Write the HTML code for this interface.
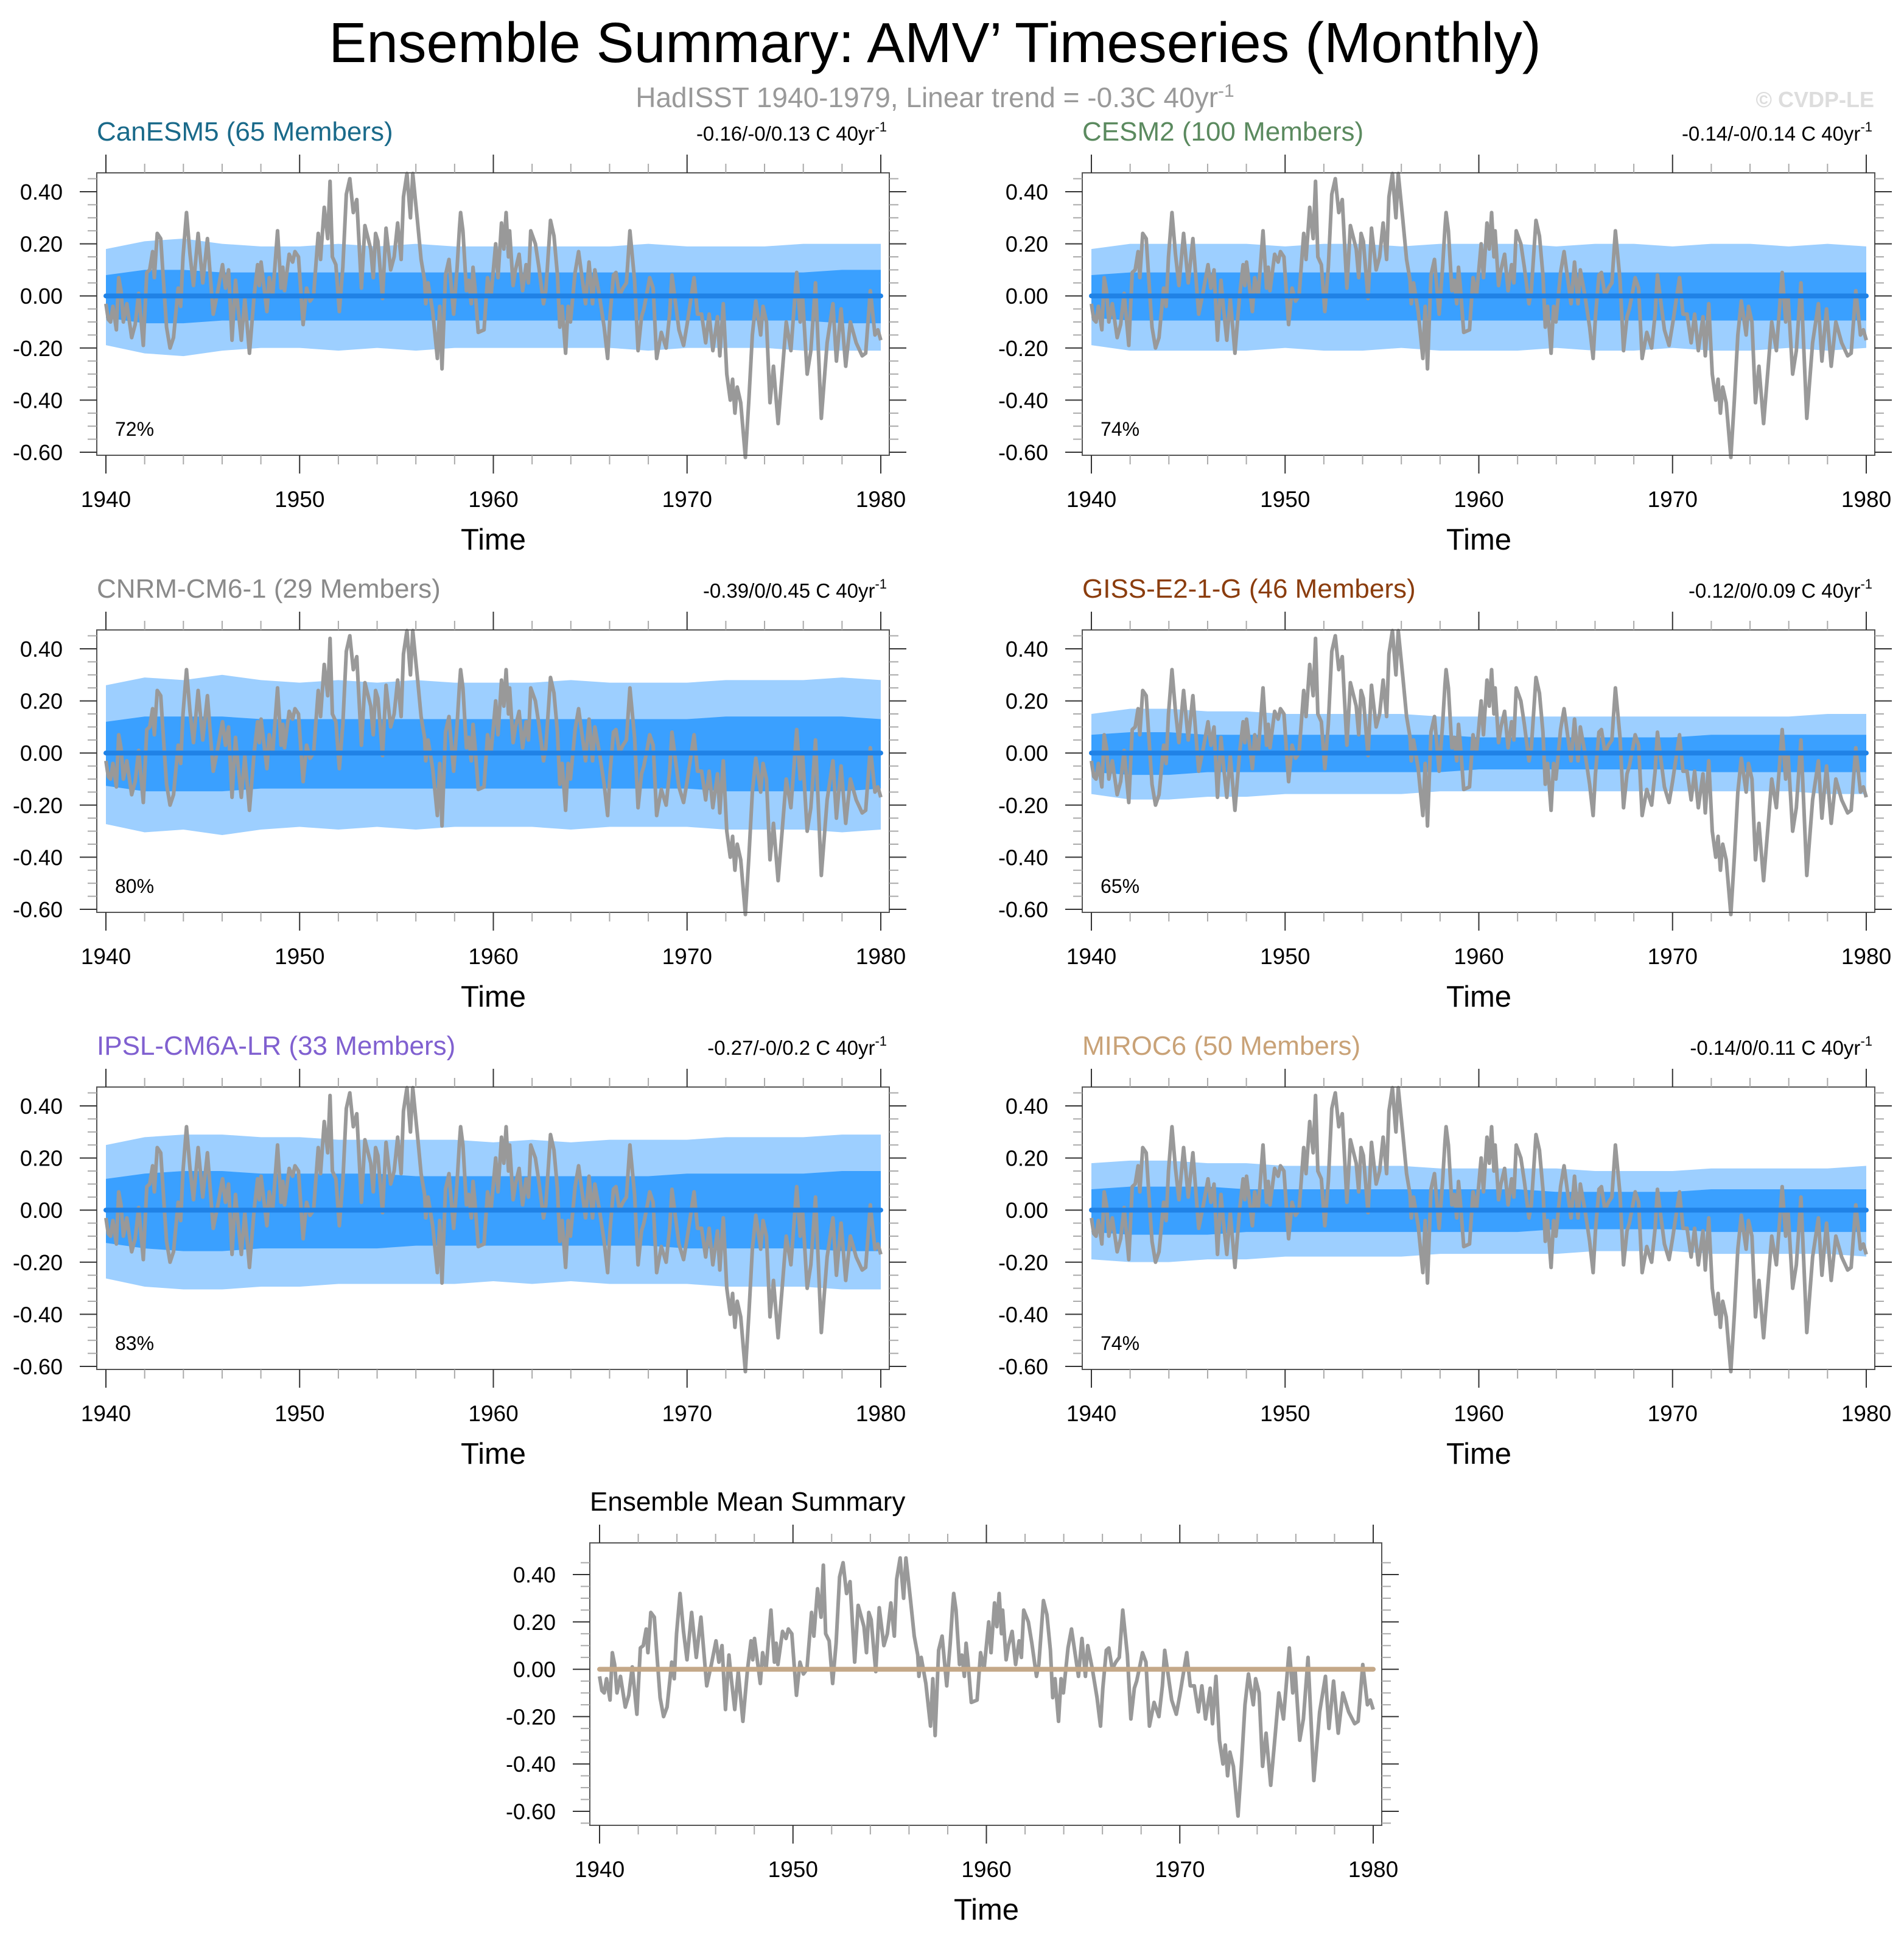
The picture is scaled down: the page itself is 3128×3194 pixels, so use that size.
<!DOCTYPE html>
<html><head><meta charset="utf-8"><style>
html,body{margin:0;padding:0;background:#fff;}
svg{display:block;font-family:"Liberation Sans",sans-serif;}
</style></head><body>
<svg id="fig" width="3128" height="3194" viewBox="0 0 3128 3194" xmlns="http://www.w3.org/2000/svg">
<text x="1536" y="102" font-size="93" text-anchor="middle" fill="#000">Ensemble Summary: AMV’ Timeseries (Monthly)</text>
<text x="1536" y="176" font-size="46" text-anchor="middle" fill="#999">HadISST 1940-1979, Linear trend = -0.3C 40yr<tspan dy="-17" font-size="30">-1</tspan></text>
<text x="3079" y="176" font-size="36" font-weight="bold" text-anchor="end" fill="#ddd">© CVDP-LE</text>
</svg>
<script>
const years = [1940,1950,1960,1970,1980];
const yTicks = [0.4,0.2,0,-0.2,-0.4,-0.6];
const obsTimes = [0,.12,.24,.36,.54,.66,.78,.90,1.08,1.33,1.51,1.69,1.93,2.11,2.26,2.41,2.50,2.65,2.83,2.95,3.13,3.31,3.49,3.73,3.86,3.98,4.16,4.34,4.52,4.76,5.00,5.24,5.54,5.78,6.02,6.17,6.33,6.51,6.69,6.81,6.99,7.17,7.41,7.65,7.83,7.92,8.01,8.31,8.43,8.61,8.86,9.04,9.13,9.22,9.46,9.64,9.76,9.94,10.18,10.36,10.54,10.72,10.96,11.08,11.27,11.45,11.57,11.69,11.87,12.05,12.23,12.41,12.59,12.77,12.95,13.19,13.37,13.67,13.80,13.92,14.04,14.28,14.46,14.70,14.88,15.06,15.24,15.36,15.54,15.72,15.84,16.08,16.27,16.45,16.51,16.63,16.87,17.11,17.23,17.35,17.53,17.71,17.95,18.13,18.25,18.31,18.43,18.61,18.73,18.86,18.95,19.04,19.22,19.52,19.70,19.88,20.12,20.24,20.42,20.54,20.66,20.78,20.84,21.02,21.14,21.33,21.51,21.69,21.81,21.93,22.17,22.35,22.59,22.71,22.95,23.13,23.31,23.43,23.55,23.73,23.86,23.98,24.22,24.40,24.58,24.76,24.94,25.12,25.24,25.48,25.72,25.90,26.02,26.20,26.33,26.51,26.69,26.87,27.05,27.29,27.47,27.65,27.77,27.95,28.07,28.25,28.43,28.67,28.92,29.10,29.22,29.58,29.82,30.00,30.36,30.54,30.75,30.96,31.14,31.33,31.57,31.69,31.87,32.05,32.23,32.35,32.47,32.59,32.77,33.01,33.19,33.37,33.55,33.80,33.92,34.10,34.28,34.46,34.70,34.94,35.12,35.36,35.66,35.84,35.96,36.20,36.39,36.63,36.93,37.23,37.53,37.71,37.95,38.19,38.43,38.73,39.04,39.22,39.46,39.70,39.85,40];
const obsValues = [-0.03,-0.09,-0.10,-0.04,-0.13,0.07,0.02,-0.10,-0.03,-0.16,-0.11,0.01,-0.19,0.09,0.10,0.17,0.07,0.24,0.22,0.08,-0.12,-0.20,-0.16,0.03,-0.04,0.15,0.32,0.16,0.04,0.24,0.05,0.22,-0.07,0.02,0.12,0.03,0.10,-0.17,0.06,-0.04,-0.17,-0.01,-0.22,0.00,0.12,0.04,0.13,-0.06,0.07,0.00,0.25,0.03,0.11,0.02,0.16,0.13,0.17,0.15,-0.11,0.03,-0.02,0.00,0.24,0.14,0.34,0.22,0.44,0.15,0.12,-0.06,0.11,0.39,0.45,0.32,0.37,0.03,0.27,0.18,0.07,0.24,0.21,-0.01,0.26,0.10,0.15,0.28,0.14,0.38,0.47,0.30,0.47,0.29,0.14,0.06,-0.03,0.05,-0.06,-0.24,-0.04,-0.28,0.08,0.14,-0.07,0.11,0.26,0.32,0.25,0.02,0.06,-0.03,0.11,0.04,-0.14,-0.13,0.07,0.00,0.20,0.07,0.28,0.18,0.32,0.15,0.25,0.04,0.10,0.16,0.02,0.12,0.05,0.25,0.20,0.11,-0.03,0.02,0.29,0.23,0.08,-0.12,-0.04,-0.22,-0.04,-0.10,0.09,0.17,0.07,-0.03,0.13,-0.03,0.10,0.00,-0.12,-0.24,-0.08,0.08,0.09,0.00,0.03,0.05,0.25,0.06,-0.21,-0.08,-0.05,0.02,0.07,0.03,-0.24,-0.14,-0.20,-0.07,0.08,-0.13,-0.19,-0.11,0.07,-0.07,-0.07,-0.18,-0.07,-0.21,-0.08,-0.23,-0.03,-0.30,-0.40,-0.32,-0.45,-0.35,-0.41,-0.62,-0.40,-0.15,-0.02,-0.15,-0.04,-0.10,-0.41,-0.27,-0.49,-0.27,-0.10,-0.21,0.09,-0.10,0.00,-0.30,-0.21,0.05,-0.47,-0.18,-0.03,-0.25,-0.05,-0.27,-0.10,-0.18,-0.23,-0.22,0.02,-0.15,-0.13,-0.17];
const bandYears = [1940,1942,1944,1946,1948,1950,1952,1954,1956,1958,1960,1962,1964,1966,1968,1970,1972,1974,1976,1978,1980];
const canOuter = [0.18,0.21,0.22,0.20,0.19,0.19,0.20,0.19,0.20,0.19,0.19,0.19,0.19,0.19,0.20,0.19,0.19,0.19,0.20,0.20,0.20];
const canInner = [0.08,0.10,0.10,0.09,0.09,0.09,0.09,0.09,0.09,0.09,0.09,0.09,0.09,0.09,0.09,0.09,0.09,0.09,0.09,0.10,0.10];
const cesmOuter = [0.18,0.20,0.20,0.20,0.20,0.19,0.20,0.20,0.19,0.20,0.20,0.20,0.19,0.20,0.20,0.19,0.20,0.20,0.19,0.20,0.19];
const cesmInner = [0.08,0.09,0.09,0.09,0.09,0.09,0.09,0.09,0.09,0.09,0.09,0.09,0.09,0.09,0.09,0.09,0.09,0.09,0.09,0.09,0.09];
const cnrmOuter = [0.26,0.29,0.28,0.30,0.28,0.27,0.28,0.27,0.28,0.27,0.27,0.27,0.28,0.27,0.27,0.27,0.28,0.28,0.28,0.29,0.28];
const cnrmInner = [0.12,0.14,0.14,0.14,0.13,0.13,0.13,0.13,0.13,0.13,0.13,0.13,0.13,0.13,0.13,0.13,0.14,0.14,0.14,0.14,0.13];
const gissOuter = [0.15,0.17,0.17,0.16,0.16,0.15,0.15,0.15,0.15,0.14,0.14,0.14,0.14,0.14,0.14,0.14,0.14,0.14,0.14,0.15,0.15];
const gissInner = [0.07,0.08,0.08,0.07,0.07,0.07,0.07,0.07,0.07,0.07,0.06,0.06,0.06,0.06,0.06,0.06,0.07,0.07,0.07,0.07,0.07];
const ipslOuter = [0.25,0.28,0.29,0.29,0.28,0.28,0.27,0.27,0.27,0.27,0.26,0.27,0.26,0.27,0.27,0.27,0.28,0.28,0.28,0.29,0.29];
const ipslInner = [0.12,0.14,0.15,0.15,0.14,0.14,0.14,0.14,0.13,0.13,0.13,0.13,0.13,0.13,0.13,0.14,0.14,0.14,0.14,0.15,0.15];
const mirocOuter = [0.18,0.19,0.19,0.18,0.18,0.17,0.17,0.17,0.17,0.16,0.16,0.16,0.16,0.15,0.15,0.15,0.16,0.16,0.16,0.16,0.17];
const mirocInner = [0.08,0.09,0.09,0.09,0.08,0.08,0.08,0.08,0.08,0.08,0.08,0.08,0.07,0.07,0.07,0.07,0.08,0.08,0.08,0.08,0.08];
const panelNames = ["CanESM5 (65 Members)","CESM2 (100 Members)","CNRM-CM6-1 (29 Members)","GISS-E2-1-G (46 Members)","IPSL-CM6A-LR (33 Members)","MIROC6 (50 Members)"];
const panelTrends = ["-0.16/-0/0.13 C 40yr","-0.14/-0/0.14 C 40yr","-0.39/0/0.45 C 40yr","-0.12/0/0.09 C 40yr","-0.27/-0/0.2 C 40yr","-0.14/0/0.11 C 40yr"];
const panelPercents = ["72%","74%","80%","65%","83%","74%"];
const panelOuter = [canOuter,cesmOuter,cnrmOuter,gissOuter,ipslOuter,mirocOuter];
const panelInner = [canInner,cesmInner,cnrmInner,gissInner,ipslInner,mirocInner];
const panelColors = ["#1a6a8a","#5b8a5f","#8a8a8a","#8b3d0e","#8060d0","#c9a277"];

const NS="http://www.w3.org/2000/svg";
const svg=document.getElementById('fig');
function mk(tag,attrs,parent){const e=document.createElementNS(NS,tag);for(const k in attrs)e.setAttribute(k,attrs[k]);(parent||svg).appendChild(e);return e;}

function drawPanel(idx,bx,by,bw,bh,x0,xspan,y04,yscale,opt){
  const g=mk('g',{});
  
  
  const xs=yr=>x0+(yr-1940)*xspan/40;
  const ys=v=>y04+(0.4-v)*yscale;
  if(opt.outer){
    let pts=[];
    bandYears.forEach((y,i)=>pts.push(xs(y)+','+ys(opt.outer[i])));
    for(let i=bandYears.length-1;i>=0;i--)pts.push(xs(bandYears[i])+','+ys(-opt.outer[i]*1.05));
    const p=mk('polygon',{points:pts.join(' '),fill:'#9dcfff'},g);
    
    
    pts=[];
    bandYears.forEach((y,i)=>pts.push(xs(y)+','+ys(opt.inner[i])));
    for(let i=bandYears.length-1;i>=0;i--)pts.push(xs(bandYears[i])+','+ys(-opt.inner[i]*1.05));
    const q=mk('polygon',{points:pts.join(' '),fill:'#3aa0ff'},g);
    
    
  }
  const op=obsValues.map((v,i)=>xs(1940+obsTimes[i])+','+ys(v)).join(' ');
  const ol=mk('polyline',{points:op,fill:'none',stroke:'#999','stroke-width':6,'stroke-linejoin':'round'},g);
  
  
  const ml=mk('line',{x1:xs(1940),x2:xs(1980),y1:ys(0),y2:ys(0),stroke:opt.meanColor,'stroke-width':8,'stroke-linecap':'round'},g);
  
  
  const box=mk('rect',{x:bx,y:by,width:bw,height:bh,fill:'none',stroke:'#555','stroke-width':2},g);
  
  
  for(let yr=1940;yr<=1980;yr+=2){
    const major=yr%10===0;const L=major?30:15;const c=major?'#333':'#aaa';
    mk('line',{x1:xs(yr),x2:xs(yr),y1:by,y2:by-L,stroke:c,'stroke-width':2},g);
    mk('line',{x1:xs(yr),x2:xs(yr),y1:by+bh,y2:by+bh+L,stroke:c,'stroke-width':2},g);
  }
  years.forEach(yr=>{
    const t=mk('text',{x:xs(yr),y:by+bh+85,'font-size':37,'text-anchor':'middle'},g);
    t.textContent=yr;
    
    
  });
  for(let k=-13;k<=9;k++){
    const v=k*0.05;const y=ys(v);
    if(y<by||y>by+bh)continue;
    const major=(k%4===0);const L=major?28:15;const c=major?'#333':'#aaa';
    mk('line',{x1:bx,x2:bx-L,y1:y,y2:y,stroke:c,'stroke-width':2},g);
    mk('line',{x1:bx+bw,x2:bx+bw+L,y1:y,y2:y,stroke:c,'stroke-width':2},g);
  }
  yTicks.forEach(v=>{
    const t=mk('text',{x:bx-56,y:ys(v)+13,'font-size':36,'text-anchor':'end'},g);
    t.textContent=v.toFixed(2);
    
    
  });
  const xt=mk('text',{x:x0+xspan/2,y:by+bh+155,'font-size':49,'text-anchor':'middle'},g);
  xt.textContent='Time';
  
  
  const tt=mk('text',{x:bx,y:by-53,'font-size':44,fill:opt.titleColor},g);
  tt.textContent=opt.title;
  
  
  if(opt.trend){
    const tr=mk('text',{x:bx+bw-4,y:by-53,'font-size':33,'text-anchor':'end'},g);
    tr.textContent=opt.trend;
    const sp=mk('tspan',{dy:-15,'font-size':22},tr);sp.textContent='-1';
    
    
    const pc=mk('text',{x:bx+30,y:by+432,'font-size':32},g);
    pc.textContent=opt.pct;
    
    
  }
}
const keys=['canesm5','cesm2','cnrm-cm6-1','giss-e2-1-g','ipsl-cm6a-lr','miroc6'];
for(let i=0;i<6;i++){
  const col=i%2,row=Math.floor(i/2);
  const bx=159+col*1619,by=284+row*751;
  drawPanel(i,bx,by,1302,464,bx+15,1273,by+31,428,{key:keys[i],outer:panelOuter[i],inner:panelInner[i],meanColor:'#2082e6',title:panelNames[i],titleColor:panelColors[i],trend:panelTrends[i],pct:panelPercents[i]});
}
drawPanel(6,969,2535,1301,464,985,1271,2587,389,{key:'ensemble-mean-summary',meanColor:'#c4a888',title:'Ensemble Mean Summary',titleColor:'#000'});
</script>
</body></html>
